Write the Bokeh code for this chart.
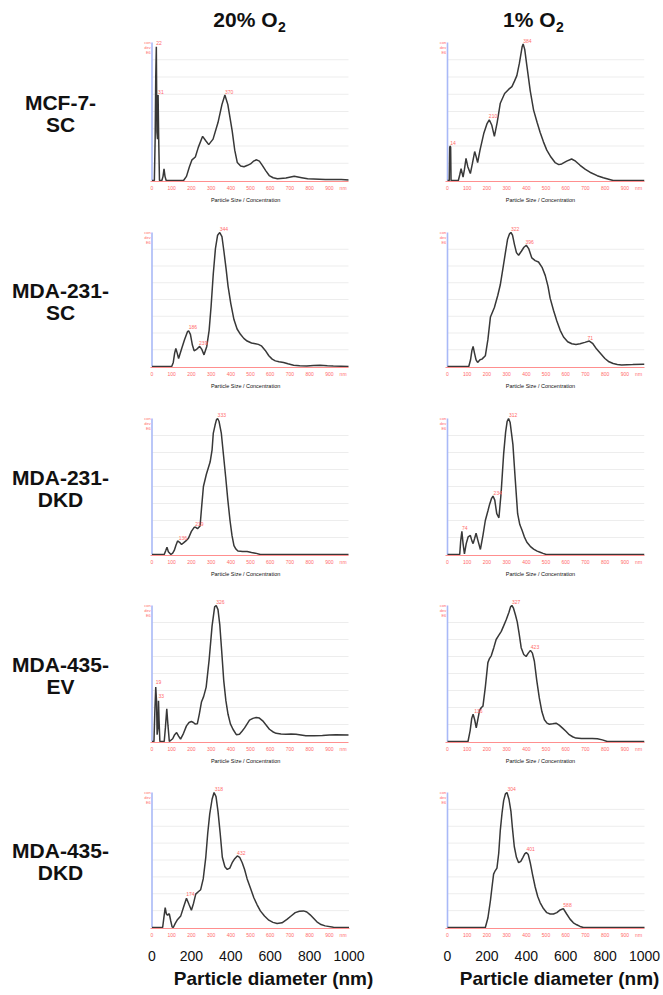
from bokeh.plotting import figure
from bokeh.layouts import column, row
from bokeh.models import Range1d, FixedTicker, LinearAxis
from bokeh.core.properties import value
from bokeh.embed import file_html
from bokeh.resources import INLINE

# ---------------- text ----------------
COL_TITLES = ["20% O", "1% O"]
COL_SUB = "2"
ROW_LINE1 = ["MCF-7-", "MDA-231-", "MDA-231-", "MDA-435-", "MDA-435-"]
ROW_LINE2 = ["SC", "SC", "DKD", "EV", "DKD"]
CAPTION = "Particle Size / Concentration"
XLABEL = "Particle diameter (nm)"
RED_TICKS = [0, 100, 200, 300, 400, 500, 600, 700, 800, 900, 970]
RED_TICK_TEXT = {970: "nm"}
BIG_TICKS = [0, 200, 400, 600, 800, 1000]
YAX_TXT = ["con", "dev", "E6"]
YAX_TXT_Y = [1.0, 0.962, 0.925]
GRID_Y = [0.125, 0.25, 0.375, 0.5, 0.625, 0.75, 0.875]

# ---------------- data (size nm, relative concentration) ----------------
# MCF-7-SC, 20% O2
A1_X = [0, 12, 16, 19, 22, 25, 28, 31, 34, 38, 50, 56, 61, 66, 72, 160, 175, 190, 203, 220, 235, 257, 272, 288, 310,
        335, 355, 370, 385, 407, 420, 433, 450, 467, 485, 500, 515, 531, 545, 560, 578, 595, 615, 637, 680, 722, 760,
        790, 880, 961, 1000]
A1_Y = [0, 0, 0.3, 0.75, 0.97, 0.35, 0.3, 0.62, 0.3, 0, 0, 0.03, 0.085, 0.03, 0, 0, 0.03, 0.1, 0.15, 0.17, 0.24, 0.32,
        0.29, 0.26, 0.3, 0.42, 0.55, 0.62, 0.55, 0.36, 0.22, 0.13, 0.105, 0.10, 0.11, 0.12, 0.14, 0.15, 0.14, 0.11,
        0.07, 0.036, 0.02, 0.012, 0.018, 0.03, 0.02, 0.012, 0.008, 0.007, 0.003]
A1_PX = [22, 31, 370]
A1_PY = [0.98, 0.63, 0.63]
A1_PT = ["22", "31", "370"]
# MCF-7-SC, 1% O2
B1_X = [0, 9, 11, 14, 16, 18, 55, 62, 69, 75, 79, 86, 94, 103, 116, 126, 138, 146, 153, 165, 184, 200, 212, 225, 238,
        252, 268, 290, 310, 327, 340, 352, 365, 379, 384, 392, 403, 420, 437, 455, 470, 487, 504, 525, 546, 565, 580,
        605, 630, 650, 673, 700, 723, 760, 791, 841, 1000]
B1_Y = [0, 0, 0.24, 0.25, 0.24, 0, 0, 0.04, 0.085, 0.05, 0.024, 0.08, 0.16, 0.1, 0.05, 0.12, 0.21, 0.17, 0.13, 0.22,
        0.34, 0.41, 0.44, 0.40, 0.32, 0.42, 0.56, 0.63, 0.66, 0.68, 0.72, 0.76, 0.85, 0.97, 0.99, 0.95, 0.83, 0.65,
        0.51, 0.42, 0.35, 0.28, 0.22, 0.17, 0.13, 0.115, 0.12, 0.14, 0.156, 0.14, 0.11, 0.08, 0.06, 0.035, 0.02, 0, 0]
B1_PX = [14, 210, 384]
B1_PY = [0.26, 0.45, 1.0]
B1_PT = ["14", "210", "384"]
# MDA-231-SC, 20% O2
A2_X = [0, 100, 108, 115, 121, 128, 135, 150, 165, 180, 186, 195, 205, 214, 228, 242, 252, 264, 278, 290, 300, 311,
        322, 333, 344, 355, 365, 376, 386, 400, 416, 432, 449, 466, 483, 505, 525, 540, 555, 575, 593, 610, 626, 645,
        668, 690, 719, 750, 786, 820, 853, 890, 920, 1000]
A2_Y = [0, 0, 0.03, 0.1, 0.134, 0.1, 0.06, 0.13, 0.2, 0.26, 0.266, 0.24, 0.16, 0.117, 0.13, 0.15, 0.13, 0.087, 0.15,
        0.27, 0.45, 0.69, 0.88, 0.98, 1.0, 0.97, 0.86, 0.73, 0.6, 0.47, 0.35, 0.28, 0.24, 0.21, 0.19, 0.175, 0.17,
        0.165, 0.154, 0.12, 0.08, 0.055, 0.042, 0.035, 0.03, 0.02, 0.01, 0.005, 0.003, 0.008, 0.01, 0.005, 0.003, 0.0]
A2_PX = [186, 239, 344]
A2_PY = [0.28, 0.16, 1.01]
A2_PT = ["186", "239", "344"]
# MDA-231-SC, 1% O2
B2_X = [0, 108, 117, 124, 130, 137, 145, 153, 165, 175, 192, 205, 218, 238, 255, 268, 280, 293, 305, 315, 322, 330,
        340, 350, 361, 375, 388, 400, 412, 428, 445, 462, 480, 496, 510, 521, 538, 555, 572, 589, 610, 631, 652, 673,
        697, 720, 738, 757, 778, 799, 820, 841, 862, 884, 940, 993, 1000]
B2_Y = [0, 0, 0.05, 0.12, 0.15, 0.1, 0.05, 0.03, 0.05, 0.055, 0.08, 0.2, 0.37, 0.44, 0.53, 0.61, 0.72, 0.84, 0.95,
        0.99, 1.0, 0.98, 0.91, 0.85, 0.83, 0.86, 0.89, 0.905, 0.88, 0.81, 0.79, 0.78, 0.74, 0.68, 0.6, 0.51, 0.42,
        0.34, 0.27, 0.22, 0.185, 0.17, 0.165, 0.17, 0.18, 0.19, 0.17, 0.13, 0.095, 0.06, 0.035, 0.022, 0.015, 0.012,
        0.014, 0.017, 0.017]
B2_PX = [322, 396, 711]
B2_PY = [1.01, 0.915, 0.2]
B2_PT = ["322", "396", "71"]
# MDA-231-DKD, 20% O2
A3_X = [0, 62, 70, 76, 83, 96, 105, 113, 122, 130, 140, 150, 160, 172, 185, 200, 214, 222, 231, 244, 252, 261, 276,
        295, 305, 311, 320, 327, 333, 340, 352, 363, 374, 385, 396, 406, 416, 426, 436, 460, 483, 505, 525, 550, 1000]
A3_Y = [0, 0, 0.03, 0.054, 0.02, 0, 0.01, 0.03, 0.07, 0.1, 0.09, 0.074, 0.085, 0.1, 0.12, 0.17, 0.2, 0.2, 0.19, 0.21,
        0.35, 0.5, 0.59, 0.68, 0.77, 0.89, 0.95, 0.99, 1.0, 0.98, 0.89, 0.73, 0.57, 0.4, 0.25, 0.14, 0.066, 0.04,
        0.025, 0.022, 0.022, 0.015, 0.01, 0, 0]
A3_PX = [136, 219, 333]
A3_PY = [0.11, 0.21, 1.01]
A3_PT = ["136", "219", "333"]
# MDA-231-DKD, 1% O2
B3_X = [0, 62, 67, 73, 79, 86, 95, 105, 116, 124, 130, 138, 145, 155, 167, 180, 192, 205, 214, 223, 231, 240, 250,
        261, 272, 285, 295, 303, 310, 318, 332, 344, 356, 367, 378, 390, 403, 420, 437, 455, 470, 485, 501, 1000]
B3_Y = [0, 0, 0.1, 0.17, 0.08, 0.005, 0.08, 0.13, 0.14, 0.1, 0.08, 0.12, 0.156, 0.1, 0.037, 0.14, 0.25, 0.32, 0.37,
        0.41, 0.43, 0.4, 0.3, 0.27, 0.45, 0.74, 0.9, 0.98, 1.0, 0.97, 0.81, 0.55, 0.3, 0.22, 0.18, 0.13, 0.09, 0.06,
        0.04, 0.025, 0.017, 0.008, 0, 0]
B3_PX = [74, 234, 312]
B3_PY = [0.18, 0.44, 1.01]
B3_PT = ["74", "234", "312"]
# MDA-435-EV, 20% O2
A4_X = [0, 10, 14, 19, 23, 26, 30, 33, 36, 40, 62, 68, 75, 81, 88, 105, 115, 125, 135, 145, 160, 175, 188, 200, 210,
        220, 230, 240, 251, 262, 275, 290, 305, 318, 326, 335, 344, 354, 364, 375, 386, 398, 411, 428, 444, 457, 470,
        483, 495, 512, 529, 545, 562, 580, 596, 613, 630, 655, 680, 706, 731, 781, 823, 865, 900, 933, 1000]
A4_Y = [0, 0, 0.2, 0.40, 0.3, 0.05, 0.1, 0.30, 0.15, 0, 0, 0.1, 0.24, 0.12, 0, 0.02, 0.05, 0.066, 0.04, 0.017, 0.06,
        0.115, 0.14, 0.147, 0.14, 0.128, 0.13, 0.2, 0.29, 0.33, 0.4, 0.6, 0.85, 0.99, 1.0, 0.97, 0.86, 0.66, 0.45,
        0.3, 0.2, 0.13, 0.09, 0.05, 0.054, 0.075, 0.1, 0.13, 0.157, 0.17, 0.177, 0.172, 0.152, 0.12, 0.09, 0.072,
        0.06, 0.056, 0.054, 0.056, 0.054, 0.042, 0.042, 0.045, 0.048, 0.05, 0.048]
A4_PX = [19, 33, 326]
A4_PY = [0.42, 0.32, 1.01]
A4_PT = ["19", "33", "326"]
# MDA-435-EV, 1% O2
B4_X = [0, 104, 115, 123, 130, 138, 146, 155, 163, 172, 180, 192, 205, 213, 222, 235, 247, 260, 273, 285, 298, 312,
        320, 327, 335, 345, 354, 364, 374, 387, 399, 410, 421, 431, 441, 453, 466, 479, 492, 505, 517, 534, 551, 567,
        584, 601, 618, 635, 652, 680, 710, 735, 761, 786, 811, 1000]
B4_Y = [0, 0, 0.08, 0.17, 0.2, 0.16, 0.1, 0.17, 0.23, 0.25, 0.26, 0.4, 0.58, 0.61, 0.63, 0.69, 0.75, 0.78, 0.81, 0.85,
        0.895, 0.95, 0.99, 1.0, 0.98, 0.93, 0.88, 0.79, 0.69, 0.64, 0.625, 0.65, 0.67, 0.65, 0.59, 0.45, 0.32, 0.22,
        0.16, 0.135, 0.127, 0.13, 0.135, 0.12, 0.098, 0.075, 0.05, 0.035, 0.025, 0.022, 0.022, 0.022, 0.02, 0.012,
        0, 0]
B4_PX = [136, 327, 423]
B4_PY = [0.21, 1.01, 0.68]
B4_PT = ["136", "327", "423"]
# MDA-435-DKD, 20% O2
A5_X = [0, 54, 60, 67, 73, 79, 84, 88, 95, 102, 108, 118, 130, 146, 160, 175, 188, 200, 211, 222, 235, 247, 260, 273,
        283, 293, 305, 315, 325, 335, 346, 357, 370, 382, 395, 407, 420, 433, 445, 458, 470, 483, 500, 517, 533, 550,
        571, 593, 614, 635, 660, 685, 706, 727, 748, 769, 786, 803, 820, 837, 858, 879, 921, 1000]
A5_Y = [0, 0, 0.07, 0.148, 0.1, 0.09, 0.1, 0.1, 0.05, 0.005, 0, 0.03, 0.06, 0.086, 0.15, 0.217, 0.17, 0.128, 0.18,
        0.247, 0.265, 0.28, 0.36, 0.52, 0.7, 0.84, 0.95, 1.0, 0.97, 0.86, 0.7, 0.52, 0.45, 0.43, 0.44, 0.48, 0.51,
        0.53, 0.52, 0.48, 0.43, 0.36, 0.29, 0.22, 0.17, 0.123, 0.085, 0.054, 0.038, 0.03, 0.035, 0.06, 0.085, 0.11,
        0.12, 0.123, 0.115, 0.094, 0.068, 0.042, 0.022, 0.012, 0.002, 0]
A5_PX = [174, 318, 432]
A5_PY = [0.23, 1.01, 0.54]
A5_PT = ["174", "318", "432"]
# MDA-435-DKD, 1% O2
B5_X = [0, 192, 205, 218, 226, 234, 242, 251, 260, 268, 277, 285, 294, 302, 312, 322, 330, 339, 350, 361, 372, 383,
        392, 400, 410, 420, 432, 445, 458, 470, 487, 504, 521, 538, 555, 572, 588, 605, 622, 639, 656, 673, 690, 1000]
B5_Y = [0, 0, 0.07, 0.2, 0.3, 0.395, 0.42, 0.44, 0.55, 0.72, 0.85, 0.94, 0.99, 1.0, 0.95, 0.86, 0.73, 0.6, 0.52, 0.48,
        0.49, 0.52, 0.545, 0.555, 0.54, 0.48, 0.39, 0.3, 0.23, 0.185, 0.14, 0.11, 0.1, 0.1, 0.11, 0.13, 0.14, 0.1,
        0.062, 0.035, 0.02, 0.008, 0, 0]
B5_PX = [304, 401, 588]
B5_PY = [1.01, 0.565, 0.15]
B5_PT = ["304", "401", "588"]

SERIES = [
    [(A1_X, A1_Y, A1_PX, A1_PY, A1_PT), (B1_X, B1_Y, B1_PX, B1_PY, B1_PT)],
    [(A2_X, A2_Y, A2_PX, A2_PY, A2_PT), (B2_X, B2_Y, B2_PX, B2_PY, B2_PT)],
    [(A3_X, A3_Y, A3_PX, A3_PY, A3_PT), (B3_X, B3_Y, B3_PX, B3_PY, B3_PT)],
    [(A4_X, A4_Y, A4_PX, A4_PY, A4_PT), (B4_X, B4_Y, B4_PX, B4_PY, B4_PT)],
    [(A5_X, A5_Y, A5_PX, A5_PY, A5_PT), (B5_X, B5_Y, B5_PX, B5_PY, B5_PT)],
]

# ---------------- layout geometry (page pixels) ----------------
FONT = "Liberation Sans"
RED = "#ff6a6a"
RED_LINE = "#ff8f8f"
BLUE = "#a9b9f7"
CURVE = "#383838"
INK = "#111111"
PXNM = 0.197
ORIGIN = [151.5, 447.0]
CELL_L = [0, 436]
CELL_R = [436, 663]
FRAME_R = [348, 644]
FRAME_R_LAST = [404, 663]
CAPTION_CX = [245, 540]
XLABEL_CX = [273, 559]
HEADER_H = 36
ROW_TOP = [36, 223, 410, 597, 784]
ROW_H = [187, 187, 187, 187, 211]
PANEL_TOP = [42, 232, 418, 605, 792]
BASE = [180, 366, 554, 741, 927]
ROW_LABEL_X = 60
ROW_LABEL_CY = [113, 301, 488, 675, 861]
ROW_LABEL_GAP = 11
TITLE_END = [277, 555]
TITLE_CY = 19
SUB_CY = 26


def bare_axis(tick, text, size, style, standoff):
    ax = LinearAxis(ticker=FixedTicker(ticks=[tick]), major_label_overrides={tick: text})
    ax.axis_line_color = None
    ax.major_tick_out = 0
    ax.major_tick_in = 0
    ax.minor_tick_out = 0
    ax.minor_tick_in = 0
    ax.major_tick_line_color = None
    ax.minor_tick_line_color = None
    ax.major_label_text_font_size = size
    ax.major_label_text_font_style = style
    ax.major_label_text_font = FONT
    ax.major_label_text_color = INK
    ax.major_label_standoff = standoff
    return ax


def panel(r, c, xs, ys, px, py, pt):
    last = r == 4
    fl = CELL_L[c]
    fr = FRAME_R_LAST[c] if last else FRAME_R[c]
    w = CELL_R[c] - CELL_L[c]
    h = ROW_H[r]
    top = ROW_TOP[r]
    s = BASE[r] - PANEL_TOP[r]
    fb = BASE[r] + 1
    x0 = (fl - ORIGIN[c]) / PXNM
    x1 = (fr - ORIGIN[c]) / PXNM
    y1 = 1 + (PANEL_TOP[r] - top) / s
    y0 = -(fb - BASE[r]) / s
    p = figure(width=w, height=h, x_range=Range1d(x0, x1), y_range=Range1d(y0, y1),
               toolbar_location=None, output_backend="svg", y_axis_location=None,
               min_border=0, min_border_right=CELL_R[c] - fr, min_border_bottom=top + h - fb,
               title=None)
    p.outline_line_color = None
    p.grid.visible = False
    ax = p.xaxis[0]
    ax.ticker = FixedTicker(ticks=RED_TICKS)
    ax.major_label_overrides = RED_TICK_TEXT
    ax.major_label_text_font_size = "5px"
    ax.major_label_text_color = RED
    ax.major_label_text_font = FONT
    ax.major_label_standoff = 3
    ax.axis_line_color = RED_LINE
    ax.axis_line_width = 1
    ax.bounds = (-8, 1000)
    ax.major_tick_out = 0
    ax.major_tick_in = 0
    ax.minor_tick_out = 0
    ax.minor_tick_in = 0
    ax.major_tick_line_color = None
    ax.minor_tick_line_color = None
    if not last:
        cap_x = round((CAPTION_CX[c] - ORIGIN[c]) / PXNM)
        p.add_layout(bare_axis(cap_x, CAPTION, "5.5px", "normal", 3), "below")
    else:
        big = LinearAxis(ticker=FixedTicker(ticks=BIG_TICKS))
        big.axis_line_color = None
        big.major_tick_out = 0
        big.major_tick_in = 0
        big.minor_tick_out = 0
        big.minor_tick_in = 0
        big.major_tick_line_color = None
        big.minor_tick_line_color = None
        big.major_label_text_font_size = "14px"
        big.major_label_text_font = FONT
        big.major_label_text_color = INK
        big.major_label_standoff = 10
        p.add_layout(big, "below")
        lab_x = round((XLABEL_CX[c] - ORIGIN[c]) / PXNM)
        p.add_layout(bare_axis(lab_x, XLABEL, "19px", "bold", 4), "below")
    # faint gridlines
    p.segment(x0=[0] * len(GRID_Y), y0=GRID_Y, x1=[1000] * len(GRID_Y), y1=GRID_Y,
              line_color="#ededed", line_width=1)
    # blue concentration axis
    p.segment(x0=[0], y0=[0], x1=[0], y1=[1], line_color=BLUE, line_width=1.6)
    p.text(x=[-6] * len(YAX_TXT), y=YAX_TXT_Y, text=YAX_TXT, text_font=value(FONT),
           text_font_size="4px", text_color=RED, text_align="right", text_baseline="middle")
    p.line(xs, ys, line_color=CURVE, line_width=1.5)
    p.text(x=px, y=py, text=pt, text_font=value(FONT), text_font_size="5px", text_color=RED,
           text_align="left", text_baseline="bottom")
    if c == 0:
        lx = (ROW_LABEL_X - ORIGIN[0]) / PXNM
        ly = [(BASE[r] - (ROW_LABEL_CY[r] - ROW_LABEL_GAP)) / s,
              (BASE[r] - (ROW_LABEL_CY[r] + ROW_LABEL_GAP)) / s]
        p.text(x=[lx, lx], y=ly, text=[ROW_LINE1[r], ROW_LINE2[r]], text_font=value(FONT),
               text_font_size="21px", text_font_style="bold", text_color=INK,
               text_align="center", text_baseline="middle")
    return p


# header with column titles (y measured upward from the header's bottom edge)
W_TOTAL = CELL_R[1]
header = figure(width=W_TOTAL, height=HEADER_H, x_range=Range1d(0, W_TOTAL), y_range=Range1d(0, HEADER_H),
                toolbar_location=None, output_backend="svg", min_border=0, x_axis_location=None,
                y_axis_location=None, title=None)
header.outline_line_color = None
header.grid.visible = False
header.text(x=TITLE_END, y=[HEADER_H - TITLE_CY] * 2, text=COL_TITLES, text_font=value(FONT),
            text_font_size="21px", text_font_style="bold", text_color=INK, text_align="right",
            text_baseline="middle")
header.text(x=[t + 0.5 for t in TITLE_END], y=[HEADER_H - SUB_CY] * 2, text=[COL_SUB, COL_SUB],
            text_font=value(FONT), text_font_size="14px", text_font_style="bold", text_color=INK,
            text_align="left", text_baseline="middle")

rows = [header]
for r in range(5):
    figs = []
    for c in range(2):
        xs, ys, px, py, pt = SERIES[r][c]
        figs.append(panel(r, c, xs, ys, px, py, pt))
    rows.append(row(*figs))

layout = column(*rows)
open("out.html", "w").write(file_html(layout, INLINE))
